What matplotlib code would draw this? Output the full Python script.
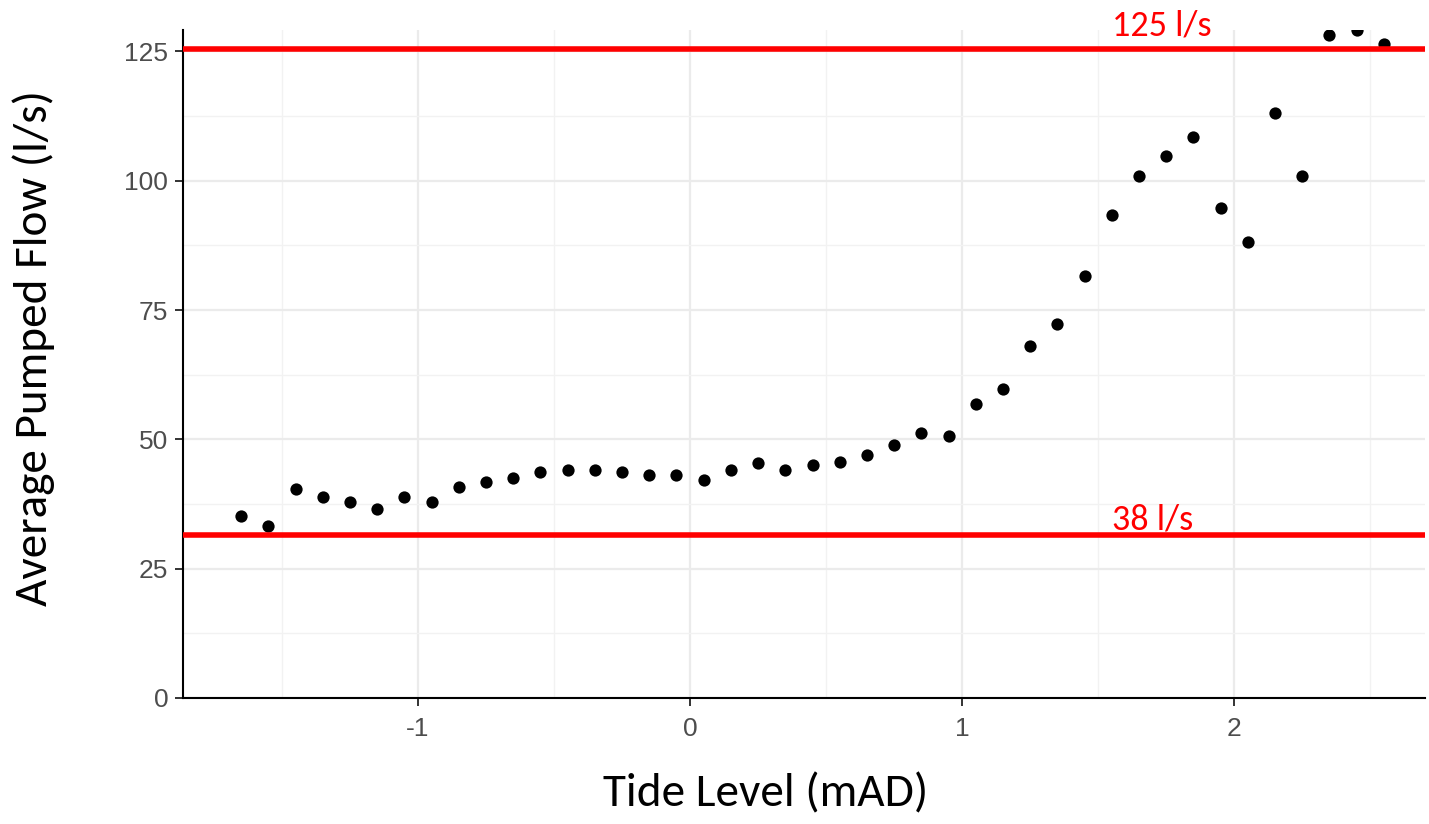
import matplotlib.pyplot as plt
from matplotlib.ticker import MultipleLocator

# tide level bins (mAD) and mean pumped flow (l/s)
tide = [-1.65, -1.55, -1.45, -1.35, -1.25, -1.15, -1.05, -0.95, -0.85, -0.75,
        -0.65, -0.55, -0.45, -0.35, -0.25, -0.15, -0.05, 0.05, 0.15, 0.25,
        0.35, 0.45, 0.55, 0.65, 0.75, 0.85, 0.95, 1.05, 1.15, 1.25,
        1.35, 1.45, 1.55, 1.65, 1.75, 1.85, 1.95, 2.05, 2.15, 2.25,
        2.35, 2.45, 2.55]
flow = [35.2, 33.2, 40.4, 38.8, 37.9, 36.5, 38.8, 37.9, 40.8, 41.7,
        42.5, 43.7, 44.0, 44.0, 43.7, 43.1, 43.1, 42.1, 44.0, 45.4,
        44.0, 45.0, 45.6, 46.9, 48.9, 51.2, 50.6, 56.8, 59.7, 68.0,
        72.3, 81.5, 93.3, 100.9, 104.7, 108.4, 94.7, 88.1, 113.0, 100.9,
        128.1, 129.1, 126.4]

# reference lines as drawn, with their labels
ref_levels = [125.5, 31.5]
ref_labels = ["125 l/s", "38 l/s"]
label_lift = [2.6, 1.0]  # baseline gap above each line

fig = plt.figure(figsize=(14.29, 8.24), dpi=100)
ax = fig.add_axes([0.128, 0.153, 0.869, 0.811])

ax.scatter(tide, flow, s=78, color="black", linewidths=0, zorder=3, clip_on=True)

for lvl, lab, lift in zip(ref_levels, ref_labels, label_lift):
    ax.axhline(lvl, color="#FF0000", lw=4, zorder=4)
    ax.text(1.55, lvl + lift, lab, color="#FF0000", fontsize=26,
            va="baseline", ha="left", family="Carlito", clip_on=False)

ax.set_xlim(-1.864, 2.70)
ax.set_ylim(0, 129.2)
ax.xaxis.set_major_locator(MultipleLocator(1))
ax.xaxis.set_minor_locator(MultipleLocator(0.5))
ax.yaxis.set_major_locator(MultipleLocator(25))
ax.yaxis.set_minor_locator(MultipleLocator(12.5))

ax.grid(which="major", color="#EBEBEB", lw=1.6, zorder=0)
ax.grid(which="minor", color="#F2F2F2", lw=1.0, zorder=0)
ax.set_axisbelow(True)

for side in ["top", "right"]:
    ax.spines[side].set_visible(False)
for side in ["left", "bottom"]:
    ax.spines[side].set_linewidth(1.5)
    ax.spines[side].set_color("black")

ax.tick_params(which="major", length=5.5, width=1.4, color="#333333",
               labelsize=19, labelcolor="#4D4D4D")
ax.tick_params(axis="x", pad=8)
ax.tick_params(axis="y", pad=5)
ax.tick_params(which="minor", length=0)
ax.xaxis.set_major_formatter(plt.FuncFormatter(lambda v, p: f"{v:g}"))
for lbl in ax.get_xticklabels() + ax.get_yticklabels():
    lbl.set_family("Liberation Sans")

ax.set_xlabel("Tide Level (mAD)", fontsize=34, family="Carlito")
ax.set_ylabel("Average Pumped Flow (l/s)", fontsize=34, family="Carlito")
ax.xaxis.set_label_coords(0.469, -0.112)
ax.yaxis.set_label_coords(-0.103, 0.524)

fig.savefig("out.png", dpi=100)
